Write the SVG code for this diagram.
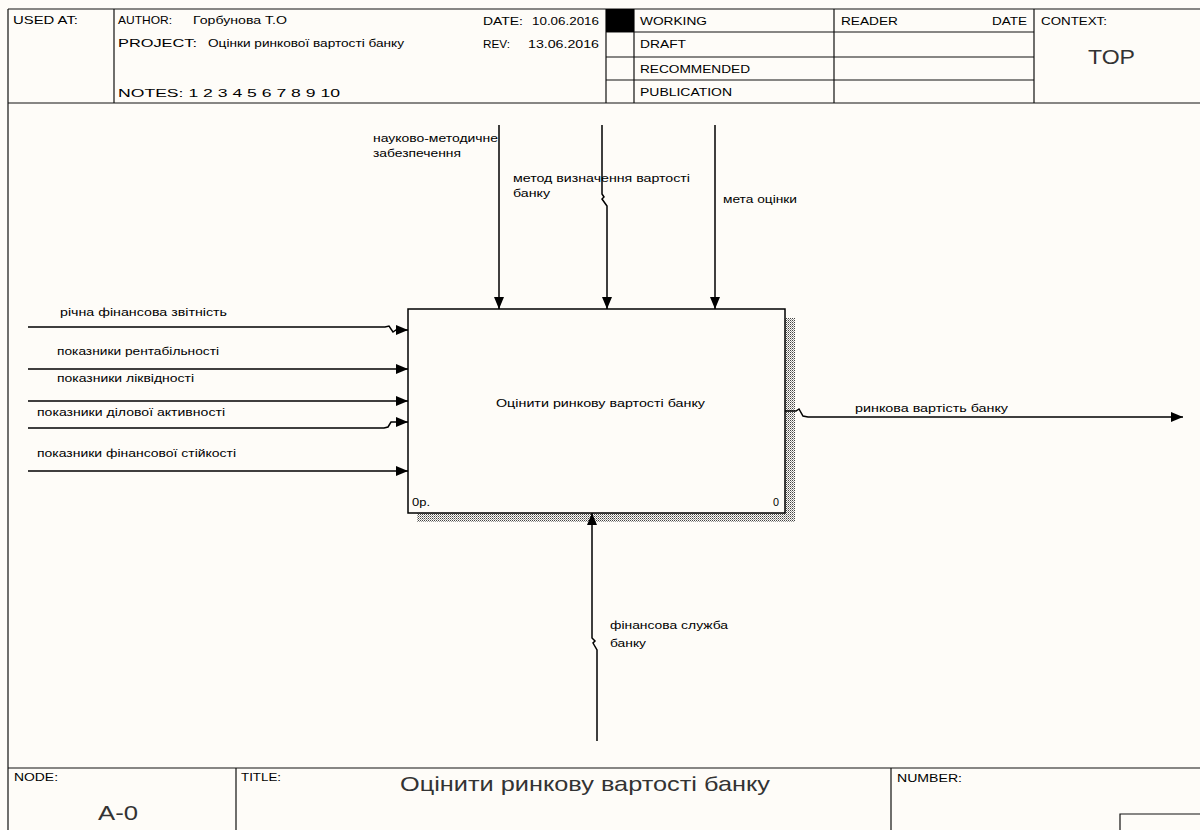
<svg xmlns="http://www.w3.org/2000/svg" width="1200" height="830" viewBox="0 0 1200 830">
<style>
.frame{stroke:#111;stroke-width:1.2;fill:none}
.conn{stroke:#000;stroke-width:1.5;fill:none}
.t{font-family:"Liberation Sans",Arial,sans-serif;font-size:11px;fill:#000}
.h{font-family:"Liberation Sans",Arial,sans-serif;font-size:11.5px;fill:#000}
.s{font-family:"Liberation Sans",Arial,sans-serif;font-size:10.5px;fill:#000}
.big{font-family:"Liberation Sans",Arial,sans-serif;font-size:21px;fill:#333}
</style>
<defs>
<marker id="arr" markerUnits="userSpaceOnUse" markerWidth="13" markerHeight="11" refX="12" refY="5" orient="auto">
<path d="M0,0 L12,5 L0,10 z" fill="#000"/>
</marker>
<pattern id="hatch" width="2" height="2" patternUnits="userSpaceOnUse">
<rect width="2" height="2" fill="#fefcf8"/>
<rect x="0" y="0" width="1" height="1" fill="#444"/>
<rect x="1" y="1" width="1" height="1" fill="#999"/>
</pattern>
</defs>
<rect width="1200" height="830" fill="#fefcf8"/>

<g id="header">
<path class="frame" d="M8,9 H1200 M8,103 H1200 M8,9 V830 M114,9 V103 M606,9 V103 M634,9 V103 M834,9 V103 M1034,9 V103 M606,32 H1034 M606,57 H1034 M606,80 H1034"/>
<rect x="606" y="9" width="28" height="23" fill="#000"/>
<text class="h" x="13" y="24" textLength="65" lengthAdjust="spacingAndGlyphs">USED AT:</text>
<text class="h" x="118" y="24" textLength="54" lengthAdjust="spacingAndGlyphs">AUTHOR:</text>
<text class="h" x="193" y="24" textLength="94" lengthAdjust="spacingAndGlyphs">Горбунова Т.О</text>
<text class="h" x="118" y="47" textLength="79" lengthAdjust="spacingAndGlyphs">PROJECT:</text>
<text class="h" x="208" y="47" textLength="196" lengthAdjust="spacingAndGlyphs">Оцінки ринкової вартості банку</text>
<text class="h" x="118" y="97" textLength="222" lengthAdjust="spacingAndGlyphs">NOTES:  1  2  3  4  5  6  7  8  9  10</text>
<text class="h" x="483" y="25" textLength="40" lengthAdjust="spacingAndGlyphs">DATE:</text>
<text class="h" x="532" y="25" textLength="67" lengthAdjust="spacingAndGlyphs">10.06.2016</text>
<text class="h" x="483" y="48" textLength="27" lengthAdjust="spacingAndGlyphs">REV:</text>
<text class="h" x="528" y="48" textLength="71" lengthAdjust="spacingAndGlyphs">13.06.2016</text>
<text class="h" x="640" y="25" textLength="67" lengthAdjust="spacingAndGlyphs">WORKING</text>
<text class="h" x="640" y="48" textLength="46" lengthAdjust="spacingAndGlyphs">DRAFT</text>
<text class="h" x="640" y="73" textLength="110" lengthAdjust="spacingAndGlyphs">RECOMMENDED</text>
<text class="h" x="640" y="96" textLength="92" lengthAdjust="spacingAndGlyphs">PUBLICATION</text>
<text class="h" x="841" y="25" textLength="57" lengthAdjust="spacingAndGlyphs">READER</text>
<text class="h" x="992" y="25" textLength="35" lengthAdjust="spacingAndGlyphs">DATE</text>
<text class="h" x="1041" y="25" textLength="66" lengthAdjust="spacingAndGlyphs">CONTEXT:</text>
<text class="big" x="1088" y="64" textLength="47" lengthAdjust="spacingAndGlyphs">TOP</text>
</g>

<g id="footer">
<path class="frame" d="M8,768 H1200 M236,768 V830 M891,768 V830 M1120,830 V814 H1200"/>
<text class="s" x="14" y="781" textLength="44" lengthAdjust="spacingAndGlyphs">NODE:</text>
<text class="s" x="241" y="781" textLength="40" lengthAdjust="spacingAndGlyphs">TITLE:</text>
<text class="s" x="897" y="782" textLength="65" lengthAdjust="spacingAndGlyphs">NUMBER:</text>
<text class="big" x="98" y="820" textLength="40" lengthAdjust="spacingAndGlyphs">A-0</text>
<text class="big" x="400" y="791" textLength="370" lengthAdjust="spacingAndGlyphs">Оцінити ринкову вартості банку</text>
</g>

<g id="node-A0">
<rect x="785" y="318" width="10" height="204" fill="url(#hatch)"/>
<rect x="417" y="513" width="378" height="9" fill="url(#hatch)"/>
<rect x="408" y="309" width="377" height="204" fill="#fefcf8" stroke="#000" stroke-width="1.5"/>
<text class="t" x="496" y="407" textLength="209" lengthAdjust="spacingAndGlyphs">Оцінити ринкову вартості банку</text>
<text class="t" x="412" y="506" textLength="18" lengthAdjust="spacingAndGlyphs">0р.</text>
<text class="t" x="773" y="506" textLength="6" lengthAdjust="spacingAndGlyphs">0</text>
</g>

<g id="connectors">
<path class="conn" marker-end="url(#arr)" d="M28,327 L385,327 L389,326 L393,332 L396,330 L408,330"/>
<path class="conn" marker-end="url(#arr)" d="M28,369 L408,369"/>
<path class="conn" marker-end="url(#arr)" d="M28,401 L408,401"/>
<path class="conn" marker-end="url(#arr)" d="M28,428 L384,428 L388,427 L391,422 L395,422 L408,422"/>
<path class="conn" marker-end="url(#arr)" d="M28,471 L408,471"/>
<path class="conn" marker-end="url(#arr)" d="M499,125 L499,309"/>
<path class="conn" marker-end="url(#arr)" d="M602,125 L602,194 L604,197 L602,199 L607,206 L607,309"/>
<path class="conn" marker-end="url(#arr)" d="M715,125 L715,309"/>
<path class="conn" marker-end="url(#arr)" d="M785,411 L796,411 L799,409 L803,416 L808,417 L1183,417"/>
<path class="conn" marker-end="url(#arr)" d="M597,741 L597,650 L593,643 L595,641 L592,638 L592,513"/>
</g>

<g id="labels">
<text class="t" x="60" y="316" textLength="167" lengthAdjust="spacingAndGlyphs">річна фінансова звітність</text>
<text class="t" x="57" y="355" textLength="162" lengthAdjust="spacingAndGlyphs">показники рентабільності</text>
<text class="t" x="57" y="382" textLength="137" lengthAdjust="spacingAndGlyphs">показники ліквідності</text>
<text class="t" x="37" y="416" textLength="188" lengthAdjust="spacingAndGlyphs">показники ділової активності</text>
<text class="t" x="37" y="457" textLength="199" lengthAdjust="spacingAndGlyphs">показники фінансової стійкості</text>
<text class="t" x="373" y="142" textLength="125" lengthAdjust="spacingAndGlyphs">науково-методичне</text>
<text class="t" x="373" y="157" textLength="88" lengthAdjust="spacingAndGlyphs">забезпечення</text>
<text class="t" x="513" y="182" textLength="177" lengthAdjust="spacingAndGlyphs">метод визначення вартості</text>
<text class="t" x="513" y="197" textLength="37" lengthAdjust="spacingAndGlyphs">банку</text>
<text class="t" x="723" y="203" textLength="74" lengthAdjust="spacingAndGlyphs">мета оцінки</text>
<text class="t" x="855" y="412" textLength="153" lengthAdjust="spacingAndGlyphs">ринкова вартість банку</text>
<text class="t" x="610" y="629" textLength="118" lengthAdjust="spacingAndGlyphs">фінансова служба</text>
<text class="t" x="610" y="647" textLength="36" lengthAdjust="spacingAndGlyphs">банку</text>
</g>
</svg>
